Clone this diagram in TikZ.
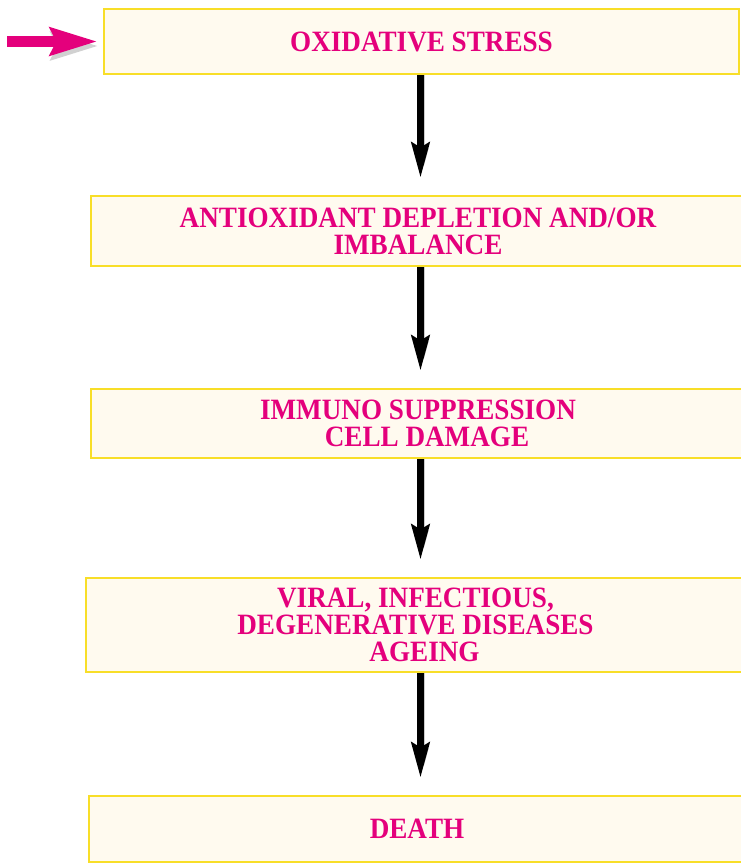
\documentclass[tikz,border=0pt]{standalone}
\usepackage{fontspec}
\setmainfont{Liberation Serif}[FakeStretch=0.92]
\usetikzlibrary{arrows.meta}
\definecolor{boxyellow}{RGB}{248,222,40}
\definecolor{boxcream}{RGB}{255,250,239}
\definecolor{labelpink}{RGB}{228,0,124}
\begin{document}
\begin{tikzpicture}[x=1pt,y=-1pt]

    \tikzset{
      flowbox/.style={
        draw=boxyellow,
        fill=boxcream,
        line width=2.8pt,
        align=center,
        text=labelpink,
        font=\fontsize{29.5}{27}\selectfont\bfseries,
        inner sep=0pt,
      },
      downarrow/.style={
        line width=6.5pt,
        -{Stealth[length=35pt,width=18pt,inset=5pt]},
        shorten >=17pt,
        preaction={draw=black!20,transform canvas={xshift=3.5pt}},
      },
      feedarrow/.style={
        draw=labelpink,
        line width=11.5pt,
        -{Stealth[length=47pt,width=27pt,inset=6pt]},
        preaction={draw=black!18,transform canvas={xshift=1pt,yshift=-4.5pt}},
      },
    }
    \useasboundingbox (0,0) rectangle (741,863);
    \clip (0,0) rectangle (741,863);

	\node[flowbox,minimum width=635pt,minimum height=65pt] (oxid) at (421.5,41.5) {OXIDATIVE STRESS};
	\node[flowbox,minimum width=654pt,minimum height=70pt] (anti) at (418,231) {ANTIOXIDANT DEPLETION AND/OR\\IMBALANCE};
	\node[flowbox,minimum width=654pt,minimum height=69pt] (immuno) at (418,423.5) {IMMUNO SUPPRESSION\\\hspace*{18pt}CELL DAMAGE};
	\node[flowbox,minimum width=659pt,minimum height=94pt] (disease) at (415.5,625) {VIRAL, INFECTIOUS,\\DEGENERATIVE DISEASES\\\hspace*{18pt}AGEING};
	\node[flowbox,minimum width=656pt,minimum height=66pt] (death) at (417,829) {DEATH};

	\coordinate (axis) at (420.5,0);
	\coordinate (feed) at (7,41.5);

	\draw[downarrow] (oxid.south -| axis)--(anti.north -| axis);
	\draw[downarrow] (anti.south -| axis)--(immuno.north -| axis);
	\draw[downarrow] (immuno.south -| axis)--(disease.north -| axis);
	\draw[downarrow] (disease.south -| axis)--(death.north -| axis);
	\draw[feedarrow] (feed)--([xshift=-5pt]oxid.west);

\end{tikzpicture}
\end{document}
